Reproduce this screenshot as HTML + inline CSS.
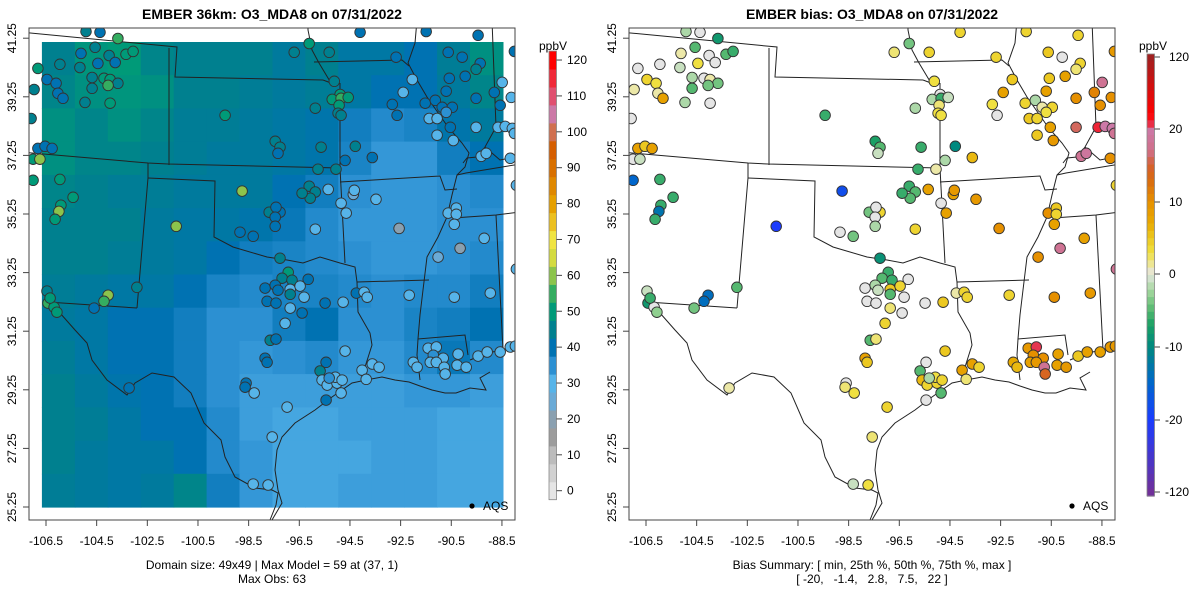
<!DOCTYPE html>
<html><head><meta charset="utf-8">
<style>
html,body{margin:0;padding:0;background:#fff;}
svg{display:block;font-family:"Liberation Sans",sans-serif;}
</style></head>
<body>
<svg id="chart" width="1200" height="600" viewBox="0 0 1200 600" xmlns="http://www.w3.org/2000/svg">
<defs>
<clipPath id="clipL"><rect x="29" y="28" width="486" height="492"/></clipPath>
<clipPath id="clipR"><rect x="629" y="28" width="486" height="492"/></clipPath>
</defs>
<text x="272" y="19" text-anchor="middle" font-size="14" font-weight="bold">EMBER 36km: O3_MDA8 on 07/31/2022</text>
<text x="872" y="19" text-anchor="middle" font-size="14" font-weight="bold">EMBER bias: O3_MDA8 on 07/31/2022</text>
<g id="left"></g>
<g id="right"></g>
<text x="272" y="569" text-anchor="middle" font-size="12">Domain size: 49x49 | Max Model = 59 at (37, 1)</text>
<text x="272" y="583" text-anchor="middle" font-size="12">Max Obs: 63</text>
<text x="872" y="569" text-anchor="middle" font-size="12">Bias Summary: [ min, 25th %, 50th %, 75th %, max ]</text>
<text x="872" y="583" text-anchor="middle" font-size="12" xml:space="preserve">[ -20,   -1.4,   2.8,   7.5,   22 ]</text>
</svg>
<script>
// ---------- data ----------
const lonTicks = [-106.5,-104.5,-102.5,-100.5,-98.5,-96.5,-94.5,-92.5,-90.5,-88.5];
const latTicks = [25.25,27.25,29.25,31.25,33.25,35.25,37.25,39.25,41.25];
const obsTicks = [0,10,20,30,40,50,60,70,80,90,100,110,120];
const biasTicks = [-120,-20,-10,0,10,20,120];
const rasterExtent = [-106.66,-88.46,25.25,41.12];
const modelGrid = [
[45,49,50,46,45,45,45,43,45,42,42,40,44,48],
[46,48,49,48,45,45,44,43,44,42,40,40,43,46],
[48,46,48,46,44,44,43,42,41,38,36,37,41,43],
[48,46,46,45,44,43,43,42,41,37,34,34,38,40],
[46,45,44,44,43,43,43,40,38,35,34,34,35,36],
[45,45,45,43,42,42,41,39,36,34,34,34,35,35],
[45,45,44,43,42,40,38,37,36,35,34,34,35,36],
[44,43,42,42,40,37,36,37,37,36,35,36,36,38],
[43,42,40,40,38,35,35,38,40,35,35,37,38,40],
[44,42,40,40,38,35,34,35,36,34,34,36,39,36],
[45,43,41,40,38,35,33,33,33,33,33,34,34,33],
[45,44,42,40,40,36,33,32,32,33,33,33,32,32],
[45,43,42,42,40,36,34,32,32,32,33,33,32,32],
[44,43,42,43,46,38,34,32,32,33,33,33,32,32]];
const stLon = [-104.92,-104.37,-103.66,-105.12,-104.56,-104.01,-103.34,-103.06,-105.95,-105.16,-106.82,-104.45,-103.77,-104.68,-104.21,-103.97,-103.66,-104.68,-104.05,-106.46,-106.10,-106.03,-105.83,-106.97,-104.96,-103.97,-107.09,-99.43,-95.87,-96.70,-95.32,-96.11,-94.10,-95.12,-94.89,-95.20,-94.85,-94.57,-94.93,-94.97,-94.85,-92.68,-92.04,-92.40,-92.83,-92.64,-91.53,-91.13,-90.86,-90.46,-91.37,-91.06,-90.70,-91.06,-90.54,-90.42,-90.62,-90.07,-90.58,-89.95,-90.70,-89.36,-89.52,-89.52,-88.80,-88.49,-88.57,-88.13,-89.52,-88.65,-88.37,-88.09,-88.01,-89.32,-89.12,-88.17,-91.49,-89.44,-88.01,-93.62,-94.29,-95.64,-97.45,-97.26,-97.34,-94.69,-106.82,-106.54,-106.26,-107.01,-106.74,-107.01,-105.95,-98.76,-95.76,-95.05,-105.43,-105.91,-105.99,-106.14,-101.36,-96.11,-95.87,-96.07,-96.39,-95.36,-97.69,-97.26,-97.42,-97.45,-97.45,-98.84,-98.32,-95.87,-94.85,-94.65,-94.37,-94.33,-93.47,-92.56,-90.62,-90.30,-90.30,-90.38,-89.20,-90.15,-91.02,-87.93,-87.93,-97.26,-96.94,-97.18,-96.79,-96.15,-97.85,-97.45,-97.34,-96.86,-96.86,-96.47,-96.31,-97.77,-97.42,-96.86,-96.39,-95.48,-94.77,-94.25,-93.94,-93.82,-92.16,-90.38,-88.96,-97.06,-102.91,-104.05,-104.21,-106.46,-106.42,-106.18,-106.07,-106.34,-104.60,-97.65,-97.42,-97.85,-97.77,-94.69,-95.44,-95.68,-95.60,-95.40,-95.01,-95.08,-95.32,-94.81,-94.85,-95.44,-98.60,-98.64,-98.28,-96.98,-97.57,-103.22,-98.32,-97.73,-94.02,-93.86,-93.62,-93.35,-92.00,-91.85,-91.41,-91.09,-91.21,-90.82,-91.33,-91.09,-90.78,-90.74,-90.23,-90.27,-89.91,-89.44,-89.08,-88.57,-88.17,-87.97];
const stLat = [41.48,41.45,41.24,40.73,40.94,40.66,40.70,40.80,40.36,40.25,40.22,40.39,40.42,39.91,39.88,39.84,39.71,39.54,39.64,39.84,39.71,39.37,39.20,39.50,39.06,39.03,38.51,38.62,38.86,40.77,40.77,41.07,41.45,39.78,39.33,39.16,39.20,39.23,38.96,38.69,38.62,40.60,39.84,39.40,38.99,38.62,39.03,39.13,38.89,38.89,38.51,38.51,38.72,37.94,38.21,37.76,40.77,40.60,39.88,39.95,39.44,40.39,40.19,39.20,39.40,39.74,38.96,39.23,38.21,38.21,38.24,38.17,38.00,37.22,37.32,37.15,41.48,41.35,40.80,37.18,37.56,37.53,37.73,37.53,37.32,37.08,37.49,37.56,37.49,37.12,37.12,36.40,36.43,36.03,36.78,36.78,35.82,35.55,35.34,35.07,34.83,36.20,36.00,35.79,35.96,36.09,35.31,35.31,35.48,35.14,34.83,34.63,34.49,34.73,35.62,35.28,35.92,36.06,35.75,34.76,35.28,35.45,35.24,34.90,34.42,34.08,33.78,36.23,33.37,33.74,33.26,33.06,32.99,33.02,32.72,32.82,32.65,32.68,32.51,32.79,32.41,32.27,32.21,32.04,31.87,32.21,32.24,32.55,32.58,32.41,32.48,32.41,32.55,31.52,32.75,32.48,32.27,32.62,32.21,32.07,31.90,32.38,32.04,30.94,30.98,30.33,30.19,30.57,30.19,29.89,29.58,29.41,29.48,29.68,29.65,29.58,29.14,28.90,29.48,29.34,29.14,28.66,27.64,29.31,26.03,26.00,29.92,29.61,30.13,30.02,30.19,30.02,30.67,30.71,30.43,30.33,30.19,30.19,30.02,29.79,30.47,30.09,30.02,30.40,30.54,30.54,30.71,30.74];
const stObs = [45,40,55,40,45,45,50,52,45,45,50,40,40,45,50,52,45,45,55,40,40,40,40,45,45,50,45,52,45,45,45,52,40,45,50,52,55,52,50,45,45,40,30,30,40,40,40,40,40,40,30,30,35,30,40,30,40,40,40,40,40,40,45,40,40,30,40,30,30,30,30,30,30,30,30,30,40,40,40,40,45,45,45,45,40,40,40,40,40,50,60,50,50,58,45,45,50,52,60,50,62,45,45,45,45,30,45,40,40,40,40,40,40,30,30,30,25,30,30,22,30,30,30,30,30,20,25,30,30,45,50,45,45,40,40,40,40,30,45,30,30,40,40,30,40,40,30,40,30,30,30,30,30,30,45,60,55,45,55,52,50,52,40,45,40,40,40,30,40,45,30,30,30,30,35,30,30,40,40,40,30,30,30,40,30,30,30,30,30,30,30,30,30,30,35,30,30,30,30,30,30,30,30,30,30,30,30,30];
const stBias = [-2,0,-8,1,-5,0,-5,-6,0,-1,0,3,0,-2,0,1,-4,-5,-4,4,3,1,8,1,-2,0,0,-6,-2,2,4,-4,4,3,0,-2,-6,-1,2,3,3,4,5,8,3,0,4,-2,1,4,5,4,3,5,8,9,5,0,5,8,8,4,2,10,11,18,10,10,16,30,20,20,18,18,19,10,4,4,9,6,-10,-6,-7,-5,-1,-2,8,5,8,0,-1,-15,-6,-18,-6,1,-6,-6,-13,-6,-22,-6,-5,-5,-6,8,-4,4,0,0,-2,0,-4,4,0,8,8,9,9,10,10,5,4,8,8,18,10,4,18,-9,-6,-5,-6,0,0,-2,-1,5,-5,4,0,0,0,2,0,0,5,1,4,4,4,10,9,4,-5,-14,-14,-1,-8,0,-3,-6,-4,-5,2,8,5,5,0,-5,6,4,4,3,-2,4,-5,0,0,2,3,4,2,1,-1,3,8,2,8,4,7,6,9,25,10,10,8,9,18,14,8,8,9,5,8,8,9,9];

// basemap outlines (left-panel pixel frame)
const borders = [
[[20,32],[177,47],[175,77],[323,80]],
[[169,48],[169,165]],
[[20,152],[148,163],[168,164],[340,168]],
[[148,163],[148,178],[137,308]],
[[148,178],[215,181],[214,237],[233,247],[267,257],[287,260],[303,263],[320,257],[340,263],[355,267],[357,282],[358,312],[370,333],[372,345],[365,367],[366,380]],
[[340,168],[345,263]],
[[340,83],[340,168]],
[[357,282],[429,280]],
[[340,182],[440,176],[445,190],[457,189]],
[[323,80],[331,83],[319,63],[312,50],[308,30],[308,20]],
[[314,62],[402,60],[409,66]],
[[417,20],[415,43],[408,63],[417,80],[427,97],[448,127],[462,143],[469,153],[465,167],[457,175],[452,195],[447,217],[438,237],[427,257],[423,290],[420,315],[418,339],[465,335],[468,355]],
[[418,339],[417,355],[420,380]],
[[492,20],[496,127],[485,147],[477,157],[467,158],[463,163]],
[[485,147],[500,160],[520,156]],
[[457,175],[466,173],[520,164]],
[[453,218],[496,215],[520,212]],
[[496,215],[503,350]],
[[47,302],[137,308]],
[[47,303],[60,313],[75,330],[87,343],[92,360],[107,380],[127,395],[135,383],[152,373],[174,377],[191,393],[204,423],[221,440],[225,457],[235,477],[255,488],[272,490],[278,493],[276,505],[270,520]],
[[366,380],[352,383],[332,397],[315,410],[295,423],[282,437],[277,450],[275,470],[278,490],[282,503],[272,520]],
[[366,380],[382,377],[395,380],[409,382],[420,386],[432,390],[445,393],[456,393],[470,388],[486,390],[480,378],[490,372]],
[[470,360],[487,353],[503,350],[520,347]]
];

// ---------- colors ----------
const obsAnch = [[0,'#e5e5e5'],[10,'#bcbcbc'],[15,'#9c9c9c'],[20,'#8aa0b0'],[25,'#6aaad6'],[30,'#56b4e9'],[35,'#2c90d2'],[40,'#0072b2'],[45,'#00808f'],[50,'#009a78'],[55,'#34ad60'],[60,'#8cc44c'],[65,'#d4db40'],[70,'#f0e442'],[75,'#ecc020'],[80,'#e6a000'],[90,'#d87000'],[95,'#d55e00'],[100,'#d07050'],[105,'#cc79a7'],[110,'#e05070'],[120,'#ff0000']];
const biasAnch = [[-120,'#70309a'],[-20,'#1a3cff'],[-15,'#0066cc'],[-10,'#00897f'],[-7,'#1aa065'],[-5,'#55b870'],[-3,'#90d090'],[-1,'#c8e0c0'],[0,'#e5e5e5'],[1,'#ece8a8'],[3,'#f0e040'],[5,'#ecc820'],[7,'#e8aa00'],[10,'#e69000'],[13,'#d86a10'],[15,'#d56030'],[17,'#d0708a'],[20,'#cc79a7'],[22,'#e04060'],[40,'#ff0000'],[120,'#a02020']];
function hx(h){return [parseInt(h.substr(1,2),16),parseInt(h.substr(3,2),16),parseInt(h.substr(5,2),16)];}
function interp(anch,v){
  if(v<=anch[0][0])return anch[0][1];
  for(let i=1;i<anch.length;i++){
    if(v<=anch[i][0]){const a=anch[i-1],b=anch[i];const t=(v-a[0])/(b[0]-a[0]);
      const c1=hx(a[1]),c2=hx(b[1]);
      return 'rgb('+c1.map((c,k)=>Math.round(c+(c2[k]-c)*t)).join(',')+')';}
  }
  return anch[anch.length-1][1];
}
const obsColor = v=>interp(obsAnch,Math.round(v/5)*5);
const fieldColor = v=>interp(obsAnch,v);
const biasColor = v=>interp(biasAnch,v);

// ---------- axes ----------
const NS='http://www.w3.org/2000/svg';
function el(tag,attrs,parent){const e=document.createElementNS(NS,tag);for(const k in attrs)e.setAttribute(k,attrs[k]);parent.appendChild(e);return e;}
function X(lon,ox){return ox+46+(lon+106.5)*25.33;}
function Y(lat){return 507-(lat-25.25)*29.3;}

function drawPanel(g,ox,isBias){
  const clip=el('g',{'clip-path':isBias?'url(#clipR)':'url(#clipL)'},g);
  
  
  if(!isBias){
    const nr=modelGrid.length,nc=modelGrid[0].length;
    const x0=X(rasterExtent[0],ox),x1=X(rasterExtent[1],ox),yT=Y(rasterExtent[3]),yB=Y(rasterExtent[2]);
    const cw=(x1-x0)/nc,ch=(yB-yT)/nr;
    for(let r=0;r<nr;r++)for(let c=0;c<nc;c++){
      const rc=el('rect',{x:(x0+c*cw).toFixed(1),y:(yT+r*ch).toFixed(1),width:(cw+0.6).toFixed(1),height:(ch+0.6).toFixed(1),fill:fieldColor(modelGrid[r][c])},clip);
      
      
    }
  }
  borders.forEach(b=>{
    const p=el('polyline',{points:b.map(q=>(q[0]+ox)+','+q[1]).join(' '),fill:'none',stroke:'#222','stroke-width':1},clip);
    
    
  });
  for(let i=0;i<stLon.length;i++){
    const col=isBias?biasColor(stBias[i]):obsColor(stObs[i]);
    const c=el('circle',{cx:X(stLon[i],ox).toFixed(1),cy:Y(stLat[i]).toFixed(1),r:5.3,fill:col,stroke:'#333','stroke-width':0.9},clip);
    
    
  }
  const box=el('rect',{x:ox+29,y:28,width:486,height:492,fill:'none',stroke:'#444','stroke-width':1},g);
  
  
  lonTicks.forEach(t=>{
    const x=X(t,ox);
    el('line',{x1:x,y1:520,x2:x,y2:526,stroke:'#444'},g);
    const tx=el('text',{x:x,y:545,'text-anchor':'middle','font-size':12},g);
    tx.textContent=t.toFixed(1);
    
    
  });
  latTicks.forEach(t=>{
    const y=Y(t);
    el('line',{x1:ox+23,y1:y,x2:ox+29,y2:y,stroke:'#444'},g);
    const tx=el('text',{x:ox+16,y:y,'text-anchor':'middle','font-size':12,transform:'rotate(-90 '+(ox+16)+' '+y+')'},g);
    tx.textContent=t.toFixed(2);
    
    
  });
  const dot=el('circle',{cx:ox+472,cy:506,r:2.6,fill:'#000'},g);
  
  
  const lt=el('text',{x:ox+483,y:510,'font-size':12},g);
  lt.textContent='AQS';
  
  
  // colorbar
  const cb=el('g',{},g);
  
  
  const bx=ox+549;
  const un=el('text',{x:bx+4,y:50,'text-anchor':'middle','font-size':12},cb);
  un.textContent='ppbV';
  
  
  if(!isBias){
    const yv=v=>490.7-v*3.589;
    for(let v=0;v<=120;v+=5){
      el('rect',{x:bx,y:(yv(v+2.5)).toFixed(1),width:7.5,height:18.5,fill:obsColor(v)},cb);
    }
    el('rect',{x:bx,y:yv(122.5),width:7.5,height:yv(-2.5)-yv(122.5),fill:'none',stroke:'#888','stroke-width':0.8},cb);
    obsTicks.forEach(t=>{
      el('line',{x1:bx+7.5,y1:yv(t),x2:bx+13,y2:yv(t),stroke:'#444'},cb);
      const tx=el('text',{x:bx+18,y:yv(t)+4,'font-size':12},cb);tx.textContent=t;
    });
  } else {
    const bx2=ox+547;
    const tp=[492,420,347,274,202,129,57];
    const yb=v=>{for(let i=1;i<biasTicks.length;i++){if(v<=biasTicks[i]){const a=biasTicks[i-1],b=biasTicks[i];return tp[i-1]+(v-a)/(b-a)*(tp[i]-tp[i-1]);}}return tp[6];};
    const vb=y=>{for(let i=0;i<6;i++){if(y>=tp[i+1]){return biasTicks[i]+(tp[i]-y)/(tp[i]-tp[i+1])*(biasTicks[i+1]-biasTicks[i]);}}return biasTicks[6];};
    const n=60,top=54,bot=496;
    for(let i=0;i<n;i++){
      const y=top+i*(bot-top)/n;
      const ym=y+(bot-top)/n/2;
      el('rect',{x:bx2,y:y.toFixed(1),width:7.5,height:((bot-top)/n+0.6).toFixed(1),fill:biasColor(vb(ym))},cb);
    }
    el('rect',{x:bx2,y:top,width:7.5,height:bot-top,fill:'none',stroke:'#888','stroke-width':0.8},cb);
    biasTicks.forEach(t=>{
      const y=yb(t);
      el('line',{x1:bx2+7.5,y1:y,x2:bx2+13,y2:y,stroke:'#444'},cb);
      const tx=el('text',{x:bx2+(t<0?18:22),y:y+4,'font-size':12},cb);tx.textContent=t;
    });
  }
}
drawPanel(document.getElementById('left'),0,false);
drawPanel(document.getElementById('right'),600,true);
</script>
</body></html>
